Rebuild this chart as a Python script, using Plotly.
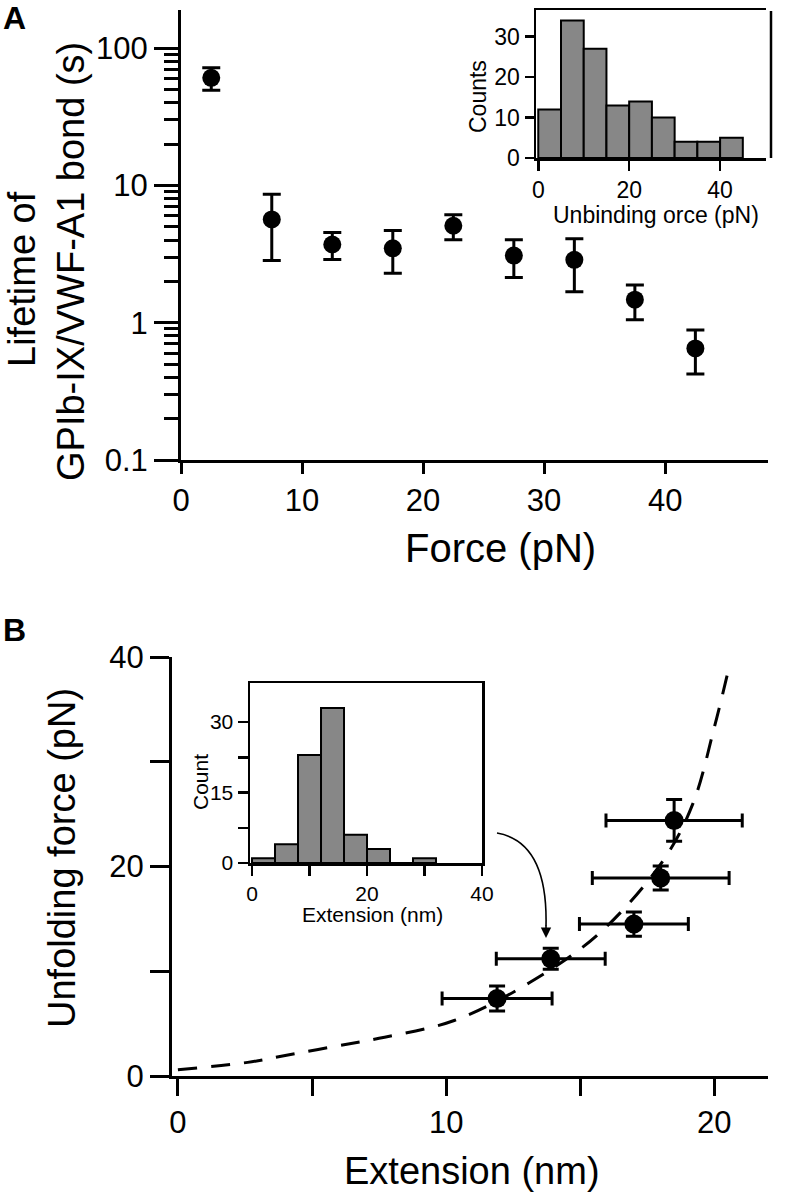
import plotly.graph_objects as go

# ---------------- data ----------------
# Panel A: bond lifetime vs force
force_pN = [2.5, 7.5, 12.5, 17.5, 22.5, 27.5, 32.5, 37.5, 42.5]
lifetime_s = [60.7, 5.65, 3.71, 3.48, 5.08, 3.08, 2.87, 1.47, 0.649]
lifetime_hi = [71.8, 8.6, 4.54, 4.7, 6.1, 4.02, 4.08, 1.88, 0.885]
lifetime_lo = [49.3, 2.84, 2.89, 2.29, 4.02, 2.13, 1.68, 1.05, 0.423]

# Panel A inset: unbinding force histogram
unbind_bin_centers = [2.5, 7.5, 12.5, 17.5, 22.5, 27.5, 32.5, 37.5, 42.5]
unbind_counts = [12, 34, 27, 13, 14, 10, 4, 4, 5]

# Panel B: unfolding force vs extension
extension_nm = [11.9, 13.9, 17.0, 18.0, 18.5]
unfold_pN = [7.4, 11.2, 14.5, 18.9, 24.4]
extension_err = [2.05, 2.03, 2.03, 2.55, 2.54]
unfold_err = [1.2, 1.0, 1.15, 1.15, 2.0]

# Panel B fit curve
fit_ext = [0, 2.6, 4.1, 5.8, 7.5, 10.3, 13.1, 15.7, 18.1, 19.2, 20.0, 20.5]
fit_force = [0.6, 1.3, 2.0, 2.8, 3.6, 5.3, 8.9, 13.6, 20.6, 26.0, 33.3, 38.5]

# Panel B inset: extension histogram
ext_bin_centers = [2, 6, 10, 14, 18, 22, 26, 30]
ext_counts = [1, 4, 23, 33, 6, 3, 0, 1]

# ---------------- layout helpers ----------------
W, H = 791, 1197
FONT = "Liberation Sans, Arial, Helvetica, sans-serif"


def fx(p):
    return p / W


def fy(p):
    return 1 - p / H


lifetime_up = [h - v for h, v in zip(lifetime_hi, lifetime_s)]
lifetime_dn = [v - l for v, l in zip(lifetime_s, lifetime_lo)]

fig = go.Figure()

# Panel A main
fig.add_trace(go.Scatter(
    x=force_pN, y=lifetime_s, mode="markers",
    marker=dict(size=18, color="black"),
    error_y=dict(type="data", symmetric=False, array=lifetime_up,
                 arrayminus=lifetime_dn, thickness=3, width=9, color="black"),
    xaxis="x", yaxis="y", showlegend=False, cliponaxis=False))

# Panel A inset
fig.add_trace(go.Bar(
    x=unbind_bin_centers, y=unbind_counts, width=5,
    marker=dict(color="#878787", line=dict(color="black", width=2)),
    xaxis="x2", yaxis="y2", showlegend=False))

# Panel B fit
fig.add_trace(go.Scatter(
    x=fit_ext, y=fit_force, mode="lines",
    line=dict(color="black", width=3, dash="19px,14px", shape="spline"),
    xaxis="x3", yaxis="y3", showlegend=False))

# Panel B points
fig.add_trace(go.Scatter(
    x=extension_nm, y=unfold_pN, mode="markers",
    marker=dict(size=19, color="black"),
    error_x=dict(type="data", array=extension_err, thickness=3, width=7, color="black"),
    error_y=dict(type="data", array=unfold_err, thickness=3, width=8, color="black"),
    xaxis="x3", yaxis="y3", showlegend=False))

# Panel B inset
fig.add_trace(go.Bar(
    x=ext_bin_centers, y=ext_counts, width=4,
    marker=dict(color="#878787", line=dict(color="black", width=2)),
    xaxis="x4", yaxis="y4", showlegend=False))

axis_common = dict(showgrid=False, zeroline=False, showline=True, linecolor="black",
                   ticks="outside", tickcolor="black", color="black", automargin=False)

minor_vals = [m * d for d in (0.1, 1, 10) for m in range(2, 10)]

fig.update_layout(
    width=W, height=H, margin=dict(l=0, r=0, t=0, b=0, pad=0),
    autosize=False, paper_bgcolor="white", plot_bgcolor="rgba(0,0,0,0)",
    font=dict(family=FONT, color="black"),
    bargap=0,
    xaxis=dict(**axis_common, domain=[fx(181), fx(768)], range=[0, 48.5], anchor="y",
               linewidth=3, tickwidth=3, ticklen=11, tickvals=[0, 10, 20, 30, 40],
               tickfont=dict(size=31)),
    yaxis=dict(**axis_common, domain=[fy(460), fy(10)], type="log", range=[-1, 2.277],
               anchor="x", linewidth=3, tickwidth=3, ticklen=24,
               tickvals=[0.1, 1, 10, 100], ticktext=["0.1", "1", "10", "100"],
               tickfont=dict(size=31),
               minor=dict(tickvals=minor_vals, ticks="outside", ticklen=14,
                          tickwidth=3, tickcolor="black", showgrid=False)),
    xaxis2=dict(**axis_common, domain=[fx(536), fx(766)], range=[-0.5, 50.1], anchor="y2",
                mirror=True, linewidth=2.5, tickwidth=2.5, ticklen=10,
                tickvals=[0, 20, 40], tickfont=dict(size=23)),
    yaxis2=dict(**axis_common, domain=[fy(158), fy(10)], range=[0, 36.6], anchor="x2",
                linewidth=2.5, tickwidth=2.5, ticklen=9,
                tickvals=[0, 10, 20, 30], tickfont=dict(size=23)),
    xaxis3=dict(**axis_common, domain=[fx(172), fx(768)], range=[-0.22, 22.0], anchor="y3",
                linewidth=3, tickwidth=3, ticklen=17,
                tickvals=[0, 5, 10, 15, 20], ticktext=["0", "", "10", "", "20"],
                tickfont=dict(size=31)),
    yaxis3=dict(**axis_common, domain=[fy(1076), fy(657)], range=[0, 40], anchor="x3",
                linewidth=3, tickwidth=3, ticklen=19,
                tickvals=[0, 10, 20, 30, 40], ticktext=["0", "", "20", "", "40"],
                tickfont=dict(size=31)),
    xaxis4=dict(**axis_common, domain=[fx(250), fx(482)], range=[-0.35, 40], anchor="y4",
                mirror=True, linewidth=2.5, tickwidth=2.5, ticklen=10,
                tickvals=[0, 10, 20, 30, 40], ticktext=["0", "", "20", "", "40"],
                tickfont=dict(size=21)),
    yaxis4=dict(**axis_common, domain=[fy(863), fy(683)], range=[0, 38.3], anchor="x4",
                mirror=True, linewidth=2.5, tickwidth=2.5, ticklen=10,
                tickvals=[0, 7.5, 15, 22.5, 30], ticktext=["0", "", "15", "", "30"],
                tickfont=dict(size=21)),
)


def label(text, x, y, size, angle=0, bold=False):
    fig.add_annotation(
        text=f"<b>{text}</b>" if bold else text, x=fx(x), y=fy(y),
        xref="paper", yref="paper", showarrow=False, textangle=angle,
        xanchor="center", yanchor="middle",
        font=dict(size=size, family=FONT, color="black"))


label("A", 14, 18, 32, bold=True)
label("B", 14, 630, 32, bold=True)
label("Lifetime of", 22, 279, 38, angle=-90)
label("GPIb-IX/VWF-A1 bond (s)", 71, 262, 38, angle=-90)
label("Force (pN)", 500, 548, 40)
label("Counts", 478, 97, 23, angle=-90)
label("Unbinding orce (pN)", 656, 215, 23)
label("Unfolding force (pN)", 62, 858, 38, angle=-90)
label("Extension (nm)", 472, 1171, 38)
label("Count", 200, 782, 21, angle=-90)
label("Extension (nm)", 372, 914, 21)

# right border of inset A
fig.add_shape(type="line", xref="paper", yref="paper",
              x0=fx(771), x1=fx(771), y0=fy(158), y1=fy(11),
              line=dict(color="black", width=2.5))

# curved arrow in panel B
fig.add_shape(type="path", xref="paper", yref="paper",
              path=f"M {fx(497)} {fy(833)} Q {fx(548)} {fy(842)} {fx(546)} {fy(926)}",
              line=dict(color="black", width=1.6))
fig.add_annotation(x=fx(546), y=fy(938), xref="paper", yref="paper",
                   ax=0, ay=-14, axref="pixel", ayref="pixel", text="",
                   showarrow=True, arrowhead=2, arrowsize=1.3, arrowwidth=1.6,
                   arrowcolor="black")

fig.write_html("out.html",
               config={"displayModeBar": False, "staticPlot": True},
               post_script="document.body.style.margin='0px';"
                           "document.body.style.overflow='hidden';")
